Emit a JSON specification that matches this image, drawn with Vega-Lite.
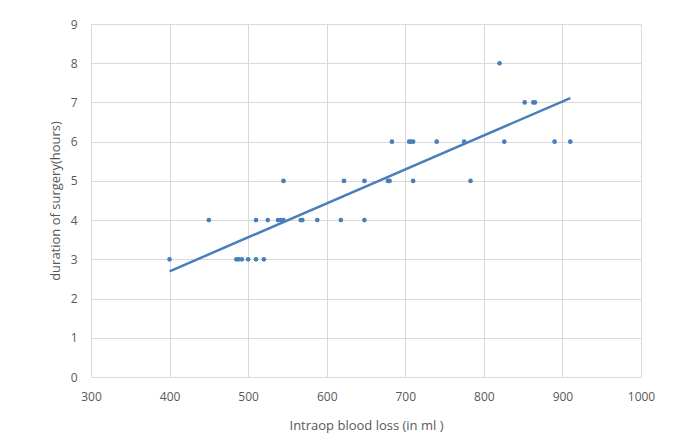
{
  "$schema": "https://vega.github.io/schema/vega-lite/v6.json",
  "width": 550,
  "height": 353,
  "autosize": "none",
  "padding": {"left": 91, "top": 24, "right": 50, "bottom": 58},
  "background": "white",
  "config": {
    "view": {"stroke": null},
    "font": "Open Sans",
    "axis": {
      "labelFont": "Open Sans",
      "titleFont": "Open Sans",
      "labelColor": "#595959",
      "titleColor": "#595959",
      "labelFontSize": 12,
      "titleFontSize": 13,
      "titleFontWeight": "normal",
      "gridColor": "#d9d9d9",
      "gridWidth": 1,
      "domain": false,
      "ticks": false,
      "labelOverlap": false,
      "labelFlush": false,
      "labelBound": false
    }
  },
  "data": {
    "values": [
      {"loss": 400, "hours": 3}, {"loss": 485, "hours": 3}, {"loss": 488, "hours": 3}, {"loss": 492, "hours": 3}, {"loss": 500, "hours": 3}, {"loss": 510, "hours": 3}, {"loss": 520, "hours": 3},
      {"loss": 450, "hours": 4}, {"loss": 510, "hours": 4}, {"loss": 525, "hours": 4}, {"loss": 538, "hours": 4}, {"loss": 542, "hours": 4}, {"loss": 545, "hours": 4}, {"loss": 567, "hours": 4}, {"loss": 569, "hours": 4}, {"loss": 588, "hours": 4}, {"loss": 618, "hours": 4}, {"loss": 648, "hours": 4},
      {"loss": 545, "hours": 5}, {"loss": 622, "hours": 5}, {"loss": 648, "hours": 5}, {"loss": 678, "hours": 5}, {"loss": 680, "hours": 5}, {"loss": 710, "hours": 5}, {"loss": 783, "hours": 5},
      {"loss": 683, "hours": 6}, {"loss": 705, "hours": 6}, {"loss": 707, "hours": 6}, {"loss": 710, "hours": 6}, {"loss": 740, "hours": 6}, {"loss": 775, "hours": 6}, {"loss": 826, "hours": 6}, {"loss": 890, "hours": 6}, {"loss": 910, "hours": 6},
      {"loss": 852, "hours": 7}, {"loss": 863, "hours": 7}, {"loss": 865, "hours": 7},
      {"loss": 820, "hours": 8}
    ]
  },
  "encoding": {
    "x": {"field": "loss", "type": "quantitative", "scale": {"domain": [300, 1000], "nice": false, "zero": false}, "axis": {"values": [300, 400, 500, 600, 700, 800, 900, 1000], "format": "d", "title": "Intraop blood loss (in ml )", "labelPadding": 14, "titlePadding": 17}},
    "y": {"field": "hours", "type": "quantitative", "scale": {"domain": [0, 9], "nice": false}, "axis": {"values": [0, 1, 2, 3, 4, 5, 6, 7, 8, 9], "format": "d", "title": "duration of surgery(hours)", "labelPadding": 14, "titlePadding": 8}}
  },
  "layer": [
    {
      "mark": {"type": "point", "filled": true, "size": 22, "color": "#4a7ebb", "opacity": 1}
    },
    {
      "transform": [{"regression": "hours", "on": "loss"}],
      "mark": {"type": "line", "color": "#4a7ebb", "strokeWidth": 2.5}
    }
  ]
}
